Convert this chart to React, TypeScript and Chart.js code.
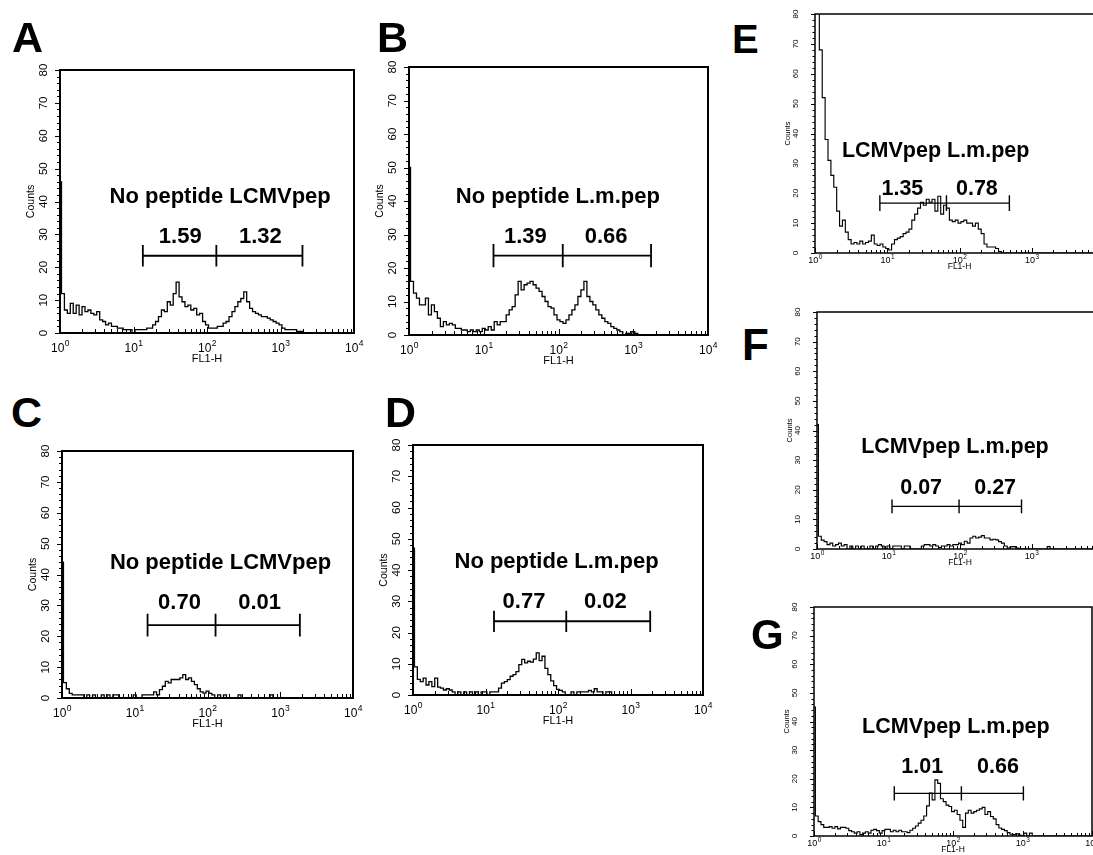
import React, { useEffect, useRef } from "react";
import { Chart, registerables } from "chart.js";

Chart.register(...registerables);

const FONT = "'Liberation Sans', Arial, Helvetica, sans-serif";

// FL1-H channel centres: 25 channels per decade, 10^0 .. 10^4
const FL1_CHANNELS: number[] = Array.from({ length: 101 }, (_, i) => Math.pow(10, i / 25));

// Counts per channel
const COUNTS_A = [
  46, 12, 7, 6, 9, 6, 8.5, 5.5, 8, 6.5,
  7, 6, 5.5, 6.5, 4, 3.5, 2.5, 3, 2, 2,
  1.5, 1.5, 1, 1, 1, 0, 1, 1, 1, 1,
  1.5, 1.5, 2.5, 3.5, 5, 7, 6.5, 9.5, 8.5, 12,
  15.5, 11, 9.5, 8, 8.5, 7, 7.5, 5.5, 6, 3.5,
  2.5, 1.5, 1.5, 1.5, 2, 2, 3, 3.5, 5, 6.5,
  8, 9.5, 10.5, 12.5, 9.5, 7.5, 6.5, 6, 5.5, 5,
  5, 4.5, 4, 3.5, 3, 2.5, 1.5, 1, 1, 1,
  1, 0.5, 0.5, 0, 0, 0, 0, 0, 0, 0,
  0, 0, 0, 0, 0, 0, 0, 0, 0, 0,
  0,
];
const COUNTS_B = [
  50, 16, 12.5, 11, 9, 9, 11, 6, 9, 7,
  5, 2.5, 4, 3, 3.5, 3, 2, 2, 1.5, 1.5,
  1, 1.5, 1, 1.5, 1, 2, 1.5, 2.5, 1.5, 4,
  3, 4, 4, 6, 7.5, 8.5, 12, 16, 13.5, 15,
  15.5, 16, 15, 14, 13, 11.5, 10, 8.5, 8, 6,
  4.5, 4, 3.5, 4.5, 6, 7.5, 9, 11.5, 13.5, 16,
  11.5, 10, 9, 7.5, 6, 5, 4, 3.5, 2.5, 2,
  1.5, 1, 0, 0.5, 0.5, 1, 0.5, 0, 0, 0,
  0, 0, 0, 0, 0, 0, 0, 0, 0, 0,
  0, 0, 0, 0, 0, 0, 0, 0, 0, 0,
  0,
];
const COUNTS_C = [
  44, 5, 3, 1.5, 1, 1, 1, 1, 0, 1,
  0, 1, 0, 0, 1, 0, 1, 0, 1, 1,
  0, 0, 0, 0, 0, 1, 0, 0, 1, 1,
  1, 1, 2, 1, 2.7, 3.8, 5.4, 4.9, 6, 6,
  6, 6.5, 7.6, 6, 6.5, 5.4, 4.3, 3, 2, 1.6,
  2.2, 1.5, 1, 0, 1, 0, 1, 0, 0, 0,
  0, 1, 0, 0, 0, 0, 0, 0, 0, 0,
  0, 0, 1, 0, 0, 0, 0, 0, 0, 0,
  0, 0, 0, 0, 0, 0, 0, 0, 0, 0,
  0, 0, 0, 0, 0, 0, 0, 0, 0, 0,
  0,
];
const COUNTS_D = [
  47, 9, 5, 4.3, 5.4, 3.2, 4.3, 2.7, 5.4, 2.5,
  2.2, 1.6, 2, 1.6, 1, 0, 1, 0, 1, 0,
  1, 0, 1, 0, 1, 1, 0, 1, 1, 1,
  2.2, 3.8, 4.3, 4.9, 6, 6.5, 7.5, 9.7, 11.4, 10.3,
  10.8, 10.5, 11.5, 13.5, 11, 12.4, 8.5, 6.5, 4.5, 3,
  1.8, 1.5, 1, 0, 0, 1, 0, 1, 1, 1,
  1, 1.5, 1, 2, 1, 1, 0, 1, 1, 0,
  0, 0, 0, 0, 0, 0, 0, 0, 0, 0,
  0, 0, 0, 0, 0, 0, 0, 0, 0, 0,
  0, 0, 0, 0, 0, 0, 0, 0, 0, 0,
  0,
];
const COUNTS_E = [
  90, 85, 68, 52, 38, 31, 26, 22, 14, 9,
  11, 7, 4.5, 3, 3.5, 3, 4, 3, 3.5, 4,
  6, 3, 2.5, 3, 2, 1.5, 1, 3, 4.5, 5,
  5.5, 6.5, 7, 8, 11, 13, 15, 17, 16, 18,
  17, 18, 14, 19, 13, 16, 15, 11, 10.5, 11,
  10, 10.5, 11, 10, 10, 9, 10, 8, 6.5, 3,
  2, 2, 2, 1.5, 0.5, 0, 0, 0, 0, 0,
  0, 0, 0, 0, 0, 0, 0, 0, 0, 0,
  0, 0, 0, 0, 0, 0, 0, 0, 0, 0,
  0, 0, 0, 0, 0, 0, 0, 0, 0, 0,
  0,
];
const COUNTS_F = [
  42, 4.3, 3, 2.5, 1.5, 2, 1, 1.5, 2, 1,
  1.5, 0, 1, 0, 1, 0, 1, 0, 0, 1,
  0, 1, 1.5, 1, 0, 1, 0, 1, 1, 1,
  0, 1, 1, 0, 0, 0, 0, 1, 1.5, 1.5,
  1, 1.5, 1, 0.5, 1, 1, 1.5, 1, 1.5, 1.5,
  2, 1.5, 2.6, 2, 3.7, 4.3, 3.7, 4, 4.5, 3.7,
  3.7, 3.1, 3.3, 3.1, 2.5, 2, 1, 0.3, 0.7, 0.8,
  0.3, 0, 0, 0, 0, 0, 0, 0, 0, 0,
  0, 0.8, 0, 0, 0, 0, 0, 0, 0, 0,
  0, 0, 0, 0, 0, 0, 0, 0, 0, 0,
  0,
];
const COUNTS_G = [
  45, 7, 5, 4, 3, 3, 3.3, 2.7, 3.3, 2.5,
  3, 3, 2.7, 1.9, 1.5, 1, 1.5, 0.5, 1, 1.5,
  1, 2, 2.3, 1.9, 1, 1.9, 2.3, 2.3, 1.5, 2,
  1.5, 2, 1.5, 1.5, 1.2, 2, 2.7, 3.5, 4.5, 5.5,
  7, 10.5, 15, 12.6, 19.6, 18.4, 13, 12, 10.8, 10.3,
  8.5, 9, 7.5, 5.5, 3, 8, 9, 8, 8.5, 9,
  9.5, 10, 7.5, 8.5, 6.8, 6, 4, 2.8, 2.3, 1.9,
  1.2, 0.6, 0.5, 0.8, 0.3, 0, 1, 0, 1, 0,
  0, 0, 0, 0, 0, 0, 0, 0, 0, 0,
  0, 0, 0, 0, 0, 0, 0, 0, 0, 0,
  0,
];

const Y_TICKS = [0, 10, 20, 30, 40, 50, 60, 70, 80];
const X_DECADES = [1, 10, 100, 1000, 10000];
const X_DECADE_EXPONENTS = ["0", "1", "2", "3", "4"];
const Y_LABEL = "Counts";
const X_LABEL = "FL1-H";

const TITLE_NO_LCMV = "No peptide LCMVpep";
const TITLE_NO_LM = "No peptide L.m.pep";
const TITLE_LCMV_LM = "LCMVpep L.m.pep";

const GATE_PCT_A = ["1.59", "1.32"];
const GATE_PCT_B = ["1.39", "0.66"];
const GATE_PCT_C = ["0.70", "0.01"];
const GATE_PCT_D = ["0.77", "0.02"];
const GATE_PCT_E = ["1.35", "0.78"];
const GATE_PCT_F = ["0.07", "0.27"];
const GATE_PCT_G = ["1.01", "0.66"];

// Gate boundaries on FL1-H [low, split, high]
const GATES_A = [13.4, 134, 1990];
const GATES_B = [13.5, 114, 1730];
const GATES_C = [15, 129, 1860];
const GATES_D = [13.1, 130, 1870];
const GATES_E = [7.9, 66, 490];
const GATES_F = [11.2, 97, 725];
const GATES_G = [14.3, 132, 1030];

type Style = {
  padL: number; padT: number; padR: number; padB: number;
  box: number; yMajor: number; yMinor: number; xMajor: number; xMinor: number;
  yFont: number; yLabelOff: number; countsFont: number; countsOff: number;
  xFont: number; xSup: number; xBase: number; xSupBase: number;
  fl1Font: number; fl1Base: number; titleSize: number; gateLW: number; histLW: number;
};

const LARGE: Style = {
  padL: 50, padT: 12, padR: 22, padB: 36,
  box: 2, yMajor: 5, yMinor: 3, xMajor: 6, xMinor: 4,
  yFont: 11.5, yLabelOff: 16.5, countsFont: 10.5, countsOff: 28.5,
  xFont: 12, xSup: 8.5, xBase: 19, xSupBase: 13,
  fl1Font: 11, fl1Base: 29, titleSize: 22, gateLW: 1.8, histLW: 1.3,
};
const SMALL: Style = {
  padL: 40, padT: 10, padR: 14, padB: 22,
  box: 1.5, yMajor: 4, yMinor: 2.5, xMajor: 5, xMinor: 3,
  yFont: 8, yLabelOff: 19, countsFont: 7.5, countsOff: 27,
  xFont: 9, xSup: 6.5, xBase: 9.5, xSupBase: 5.5,
  fl1Font: 8.5, fl1Base: 16, titleSize: 21.5, gateLW: 1.4, histLW: 1.15,
};

type PanelSpec = {
  letter: string;
  letterX: number; letterBase: number; letterSize: number;
  counts: number[];
  title: string; titleX: number; titleY: number;
  pct: string[]; pctX: number[]; pctY: number;
  gates: number[]; gateY: number; gateHalf: number;
  plot: { l: number; t: number; r: number; b: number };
  style: Style;
};

const PANELS: PanelSpec[] = [
  {
    letter: "A", letterX: 12, letterBase: 52, letterSize: 43, counts: COUNTS_A,
    title: TITLE_NO_LCMV, titleX: 151, titleY: 39.5,
    pct: GATE_PCT_A, pctX: [43.3, 533], pctY: 27.3,
    gates: GATES_A, gateY: 23.5, gateHalf: 3.3,
    plot: { l: 60, t: 70, r: 354, b: 333 }, style: LARGE,
  },
  {
    letter: "B", letterX: 377, letterBase: 52, letterSize: 43, counts: COUNTS_B,
    title: TITLE_NO_LM, titleX: 98, titleY: 39.5,
    pct: GATE_PCT_B, pctX: [36, 433], pctY: 27.5,
    gates: GATES_B, gateY: 23.7, gateHalf: 3.5,
    plot: { l: 409, t: 67, r: 708, b: 335 }, style: LARGE,
  },
  {
    letter: "C", letterX: 11, letterBase: 427, letterSize: 43, counts: COUNTS_C,
    title: TITLE_NO_LCMV, titleX: 151, titleY: 41.8,
    pct: GATE_PCT_C, pctX: [41.2, 520], pctY: 28.9,
    gates: GATES_C, gateY: 23.6, gateHalf: 3.7,
    plot: { l: 62, t: 451, r: 353, b: 698 }, style: LARGE,
  },
  {
    letter: "D", letterX: 385, letterBase: 427, letterSize: 43, counts: COUNTS_D,
    title: TITLE_NO_LM, titleX: 95.5, titleY: 40.8,
    pct: GATE_PCT_D, pctX: [34, 450], pctY: 27.8,
    gates: GATES_D, gateY: 23.6, gateHalf: 3.4,
    plot: { l: 413, t: 445, r: 703, b: 695 }, style: LARGE,
  },
  {
    letter: "E", letterX: 732, letterBase: 53, letterSize: 40, counts: COUNTS_E,
    title: TITLE_LCMV_LM, titleX: 46.8, titleY: 32.3,
    pct: GATE_PCT_E, pctX: [16.2, 174], pctY: 19.3,
    gates: GATES_E, gateY: 16.7, gateHalf: 2.6,
    plot: { l: 815, t: 14, r: 1104, b: 253 }, style: SMALL,
  },
  {
    letter: "F", letterX: 742, letterBase: 360, letterSize: 44, counts: COUNTS_F,
    title: TITLE_LCMV_LM, titleX: 85, titleY: 32.3,
    pct: GATE_PCT_F, pctX: [28.6, 310], pctY: 18.6,
    gates: GATES_F, gateY: 14.4, gateHalf: 2.3,
    plot: { l: 817, t: 312, r: 1103, b: 549 }, style: SMALL,
  },
  {
    letter: "G", letterX: 751, letterBase: 650, letterSize: 42, counts: COUNTS_G,
    title: TITLE_LCMV_LM, titleX: 110, titleY: 35.9,
    pct: GATE_PCT_G, pctX: [36, 443], pctY: 21.9,
    gates: GATES_G, gateY: 14.9, gateHalf: 2.5,
    plot: { l: 814, t: 607, r: 1092, b: 836 }, style: SMALL,
  },
];

function makeDecor(p: PanelSpec) {
  const st = p.style;
  return {
    id: "facsDecor",
    afterDatasetsDraw(chart: any) {
      const ctx: CanvasRenderingContext2D = chart.ctx;
      const xs = chart.scales.x;
      const ys = chart.scales.y;
      const { left, right, top, bottom } = chart.chartArea;
      ctx.save();
      ctx.strokeStyle = "#000";
      ctx.fillStyle = "#000";

      // frame
      ctx.lineWidth = st.box;
      ctx.strokeRect(left, top, right - left, bottom - top);

      // y ticks (minor every 2 counts)
      ctx.lineWidth = 1;
      for (let v = 0; v <= 80; v += 2) {
        const y = Math.round(ys.getPixelForValue(v)) + 0.5;
        const len = v % 10 === 0 ? st.yMajor : st.yMinor;
        ctx.beginPath();
        ctx.moveTo(left, y);
        ctx.lineTo(left - len, y);
        ctx.stroke();
      }
      // x ticks (log, pointing inward)
      for (let d = 0; d < X_DECADES.length; d++) {
        const base = X_DECADES[d];
        for (let m = 1; m <= 9; m++) {
          const val = base * m;
          if (val > 10000) break;
          const x = Math.round(xs.getPixelForValue(val)) + 0.5;
          const len = m === 1 ? st.xMajor : st.xMinor;
          ctx.beginPath();
          ctx.moveTo(x, bottom);
          ctx.lineTo(x, bottom - len);
          ctx.stroke();
        }
      }

      // y labels (rotated)
      ctx.font = `${st.yFont}px ${FONT}`;
      ctx.textAlign = "center";
      ctx.textBaseline = "middle";
      Y_TICKS.forEach((v) => {
        const y = ys.getPixelForValue(v);
        ctx.save();
        ctx.translate(left - st.yLabelOff, y);
        ctx.rotate(-Math.PI / 2);
        ctx.fillText(String(v), 0, 0);
        ctx.restore();
      });
      ctx.font = `${st.countsFont}px ${FONT}`;
      ctx.save();
      ctx.translate(left - st.countsOff, ys.getPixelForValue(40));
      ctx.rotate(-Math.PI / 2);
      ctx.fillText(Y_LABEL, 0, 0);
      ctx.restore();

      // x labels 10^n
      ctx.textBaseline = "alphabetic";
      ctx.textAlign = "left";
      X_DECADES.forEach((v, i) => {
        const x = xs.getPixelForValue(v);
        ctx.font = `${st.xFont}px ${FONT}`;
        const w10 = ctx.measureText("10").width;
        ctx.font = `${st.xSup}px ${FONT}`;
        const ws = ctx.measureText(X_DECADE_EXPONENTS[i]).width;
        const x0 = x - (w10 + ws) / 2;
        ctx.font = `${st.xFont}px ${FONT}`;
        ctx.fillText("10", x0, bottom + st.xBase);
        ctx.font = `${st.xSup}px ${FONT}`;
        ctx.fillText(X_DECADE_EXPONENTS[i], x0 + w10 + 0.5, bottom + st.xSupBase);
      });
      ctx.textAlign = "center";
      ctx.font = `${st.fl1Font}px ${FONT}`;
      ctx.fillText(X_LABEL, (left + right) / 2, bottom + st.fl1Base);

      // annotation title
      ctx.font = `bold ${st.titleSize}px ${FONT}`;
      ctx.fillText(p.title, xs.getPixelForValue(p.titleX), ys.getPixelForValue(p.titleY));
      // gate percentages
      p.pct.forEach((txt, k) => {
        ctx.fillText(txt, xs.getPixelForValue(p.pctX[k]), ys.getPixelForValue(p.pctY));
      });
      // gate bars
      ctx.lineWidth = st.gateLW;
      const gy = ys.getPixelForValue(p.gateY);
      const gTop = ys.getPixelForValue(p.gateY + p.gateHalf);
      const gBot = ys.getPixelForValue(p.gateY - p.gateHalf);
      const gx = p.gates.map((g) => xs.getPixelForValue(g));
      ctx.beginPath();
      ctx.moveTo(gx[0], gy);
      ctx.lineTo(gx[2], gy);
      gx.forEach((x) => {
        ctx.moveTo(x, gTop);
        ctx.lineTo(x, gBot);
      });
      ctx.stroke();
      ctx.restore();
    },
  };
}

function FacsPanel({ p }: { p: PanelSpec }) {
  const ref = useRef<HTMLCanvasElement | null>(null);
  const st = p.style;
  const w = p.plot.r - p.plot.l + st.padL + st.padR;
  const h = p.plot.b - p.plot.t + st.padT + st.padB;

  useEffect(() => {
    if (!ref.current) return;
    const chart = new Chart(ref.current, {
      type: "line",
      data: {
        datasets: [
          {
            data: FL1_CHANNELS.map((x, i) => ({ x, y: p.counts[i] })),
            borderColor: "#000",
            borderWidth: st.histLW,
            pointRadius: 0,
            stepped: "middle",
            fill: false,
            tension: 0,
          },
        ],
      },
      options: {
        animation: false,
        responsive: false,
        events: [],
        layout: { padding: { left: st.padL, top: st.padT, right: st.padR, bottom: st.padB } },
        plugins: { legend: { display: false }, tooltip: { enabled: false }, title: { display: false } },
        scales: {
          x: { type: "logarithmic", min: 1, max: 10000, display: false },
          y: { type: "linear", min: 0, max: 80, display: false },
        },
      },
      plugins: [makeDecor(p)],
    } as any);
    return () => chart.destroy();
  }, []);

  return (
    <canvas
      ref={ref}
      width={w}
      height={h}
      style={{ position: "absolute", left: p.plot.l - st.padL, top: p.plot.t - st.padT, width: w, height: h }}
    />
  );
}

export default function App() {
  return (
    <div
      style={{
        position: "fixed",
        left: 0,
        top: 0,
        width: 1093,
        height: 855,
        overflow: "hidden",
        background: "#fff",
      }}
    >
      {PANELS.map((p) => (
        <FacsPanel key={p.letter} p={p} />
      ))}
      {PANELS.map((p) => (
        <div
          key={"L" + p.letter}
          style={{
            position: "absolute",
            left: p.letterX,
            top: p.letterBase - 0.8465 * p.letterSize,
            font: `bold ${p.letterSize}px ${FONT}`,
            lineHeight: 1,
            color: "#000",
          }}
        >
          {p.letter}
        </div>
      ))}
    </div>
  );
}
